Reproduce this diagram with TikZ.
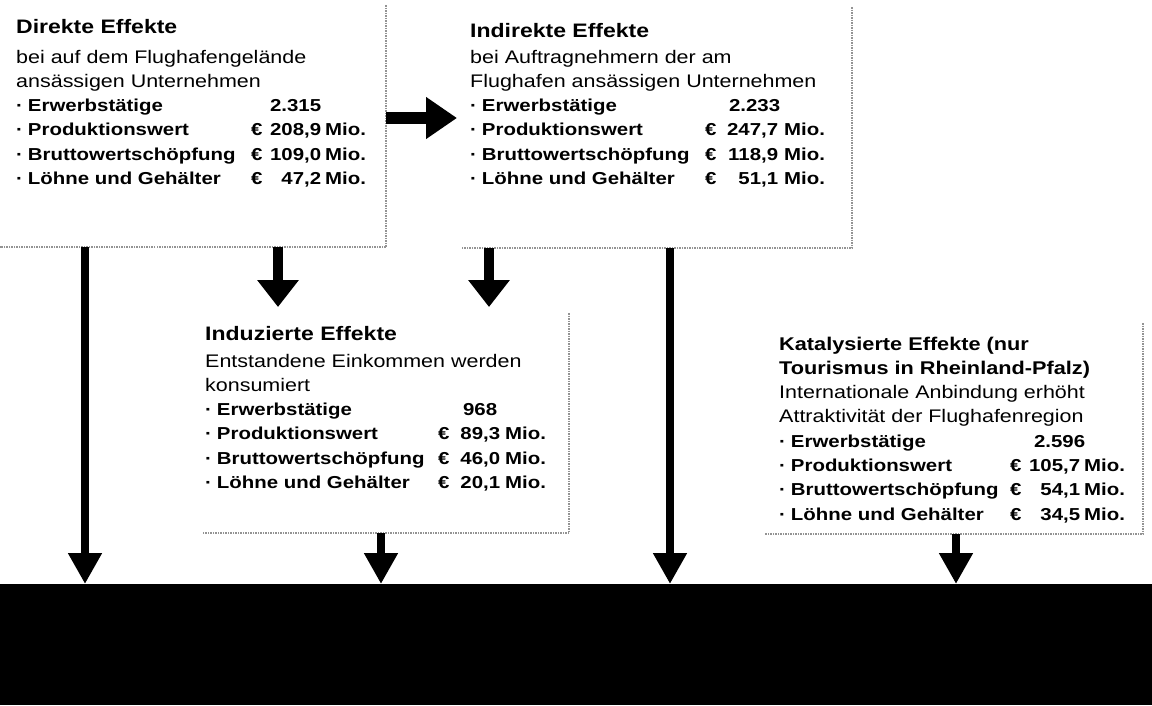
\documentclass[tikz,border=0pt]{standalone}
\usepackage{fontspec}
\setmainfont{Liberation Sans}[FakeStretch=1.18]
\usetikzlibrary{arrows.meta}
\newcommand{\tsz}{\fontsize{19.5}{24.3}\selectfont\bfseries}
\newcommand{\ssz}{\fontsize{18.2}{24.3}\selectfont}
\newcommand{\bsz}{\fontsize{17.3}{24.3}\selectfont\bfseries}
% #1 label width, #2 label, #3 value width, #4 euro, #5 number, #6 unit
\newcommand{\itm}[6]{\bsz\makebox[#1][l]{·\hspace{5pt}#2}\hbox to #3{#4\hfill#5}#6}
\tikzset{
  frame/.style={inner sep=0pt, outer sep=0pt},
  border/.style={draw=gray!85, line width=1.5pt, densely dotted},
  boxtext/.style={anchor=base west, inner sep=0pt, font=\fontsize{17}{24.3}\selectfont},
  longarrow/.style={line width=8pt, -{Triangle[width=32pt,length=31pt]}},
  shortarrow/.style={line width=10pt, -{Triangle[width=40pt,length=27pt]}},
  sidearrow/.style={line width=12pt, -{Triangle[width=40pt,length=31pt]}},
}
\begin{document}
\begin{tikzpicture}[x=1pt,y=-1pt]
\useasboundingbox (0,0) rectangle (1152,705);
% frames
\node[frame, minimum width=386pt, minimum height=242pt, anchor=south east] (boxA) at (386,247) {};
\node[frame, minimum width=390pt, minimum height=241pt, anchor=south east] (boxB) at (852,248) {};
\node[frame, minimum width=366pt, minimum height=220pt, anchor=south east] (boxC) at (569,533) {};
\node[frame, minimum width=378pt, minimum height=211pt, anchor=south east] (boxD) at (1143,534) {};
\draw[border] (boxA.north east) -- (boxA.south east) -- (boxA.south west);
\draw[border] (boxB.north east) -- (boxB.south east) -- (boxB.south west);
\draw[border] (boxC.north east) -- (boxC.south east) -- (boxC.south west);
\draw[border] (boxD.north east) -- (boxD.south east) -- (boxD.south west);
% bar
\node[fill=black, inner sep=0pt, outer sep=0pt, minimum width=1152pt, minimum height=121pt, anchor=north west] (bar) at (0,584) {};
% texts
\node[boxtext] (tA) at (16,33) {\begin{tabular}[t]{@{}l@{}}
\tsz Direkte Effekte\\[5.7pt]
\ssz bei auf dem Flughafengelände\\
\ssz ansässigen Unternehmen\\
\itm{235pt}{Erwerbstätige}{70pt}{}{2.315}{}\\
\itm{235pt}{Produktionswert}{70pt}{€}{208,9}{\hspace{4pt}Mio.}\\
\itm{235pt}{Bruttowertschöpfung}{70pt}{€}{109,0}{\hspace{4pt}Mio.}\\
\itm{235pt}{Löhne und Gehälter}{70pt}{€}{47,2}{\hspace{4pt}Mio.}
\end{tabular}};
\node[boxtext] (tB) at (470,37) {\begin{tabular}[t]{@{}l@{}}
\tsz Indirekte Effekte\\[1.7pt]
\ssz bei Auftragnehmern der am\\
\ssz Flughafen ansässigen Unternehmen\\
\itm{235pt}{Erwerbstätige}{75pt}{}{2.233}{}\\
\itm{235pt}{Produktionswert}{73pt}{€}{247,7}{\hspace{6pt}Mio.}\\
\itm{235pt}{Bruttowertschöpfung}{73pt}{€}{118,9}{\hspace{6pt}Mio.}\\
\itm{235pt}{Löhne und Gehälter}{73pt}{€}{51,1}{\hspace{6pt}Mio.}
\end{tabular}};
\node[boxtext] (tC) at (205,340) {\begin{tabular}[t]{@{}l@{}}
\tsz Induzierte Effekte\\[2.7pt]
\ssz Entstandene Einkommen werden\\
\ssz konsumiert\\
\itm{233pt}{Erwerbstätige}{59pt}{}{968}{}\\
\itm{233pt}{Produktionswert}{62pt}{€}{89,3}{\hspace{5pt}Mio.}\\
\itm{233pt}{Bruttowertschöpfung}{62pt}{€}{46,0}{\hspace{5pt}Mio.}\\
\itm{233pt}{Löhne und Gehälter}{62pt}{€}{20,1}{\hspace{5pt}Mio.}
\end{tabular}};
\node[boxtext] (tD) at (779,350) {\begin{tabular}[t]{@{}l@{}}
\fontsize{18.4}{24.3}\selectfont\bfseries Katalysierte Effekte (nur\\
\fontsize{18.4}{24.3}\selectfont\bfseries Tourismus in Rheinland-Pfalz)\\
\ssz Internationale Anbindung erhöht\\
\ssz Attraktivität der Flughafenregion\\
\itm{231pt}{Erwerbstätige}{75pt}{}{2.596}{}\\
\itm{231pt}{Produktionswert}{70pt}{€}{105,7}{\hspace{4pt}Mio.}\\
\itm{231pt}{Bruttowertschöpfung}{70pt}{€}{54,1}{\hspace{4pt}Mio.}\\
\itm{231pt}{Löhne und Gehälter}{70pt}{€}{34,5}{\hspace{4pt}Mio.}
\end{tabular}};
% arrow positions
\coordinate (xA) at (85,0);
\coordinate (xAC) at (278,0);
\coordinate (xBC) at (489,0);
\coordinate (xB) at (670,0);
\coordinate (xC) at (381,0);
\coordinate (xD) at (956,0);
\coordinate (yAB) at (0,118);
\coordinate (tipAB) at (457,118);
\coordinate (yC) at (0,307);
% arrows
\draw[sidearrow] (boxA.east |- yAB) -- (tipAB);
\draw[longarrow] (xA |- boxA.south) -- (xA |- bar.north);
\draw[shortarrow] (xAC |- boxA.south) -- (xAC |- yC);
\draw[shortarrow] (xBC |- boxB.south) -- (xBC |- yC);
\draw[longarrow] (xB |- boxB.south) -- (xB |- bar.north);
\draw[longarrow] (xC |- boxC.south) -- (xC |- bar.north);
\draw[longarrow] (xD |- boxD.south) -- (xD |- bar.north);
\end{tikzpicture}
\end{document}
